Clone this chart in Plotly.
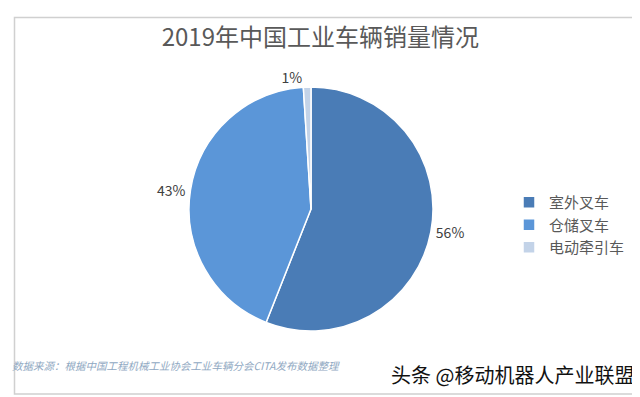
import plotly.graph_objects as go

categories = ["室外叉车", "仓储叉车", "电动牵引车"]
values = [56, 43, 1]
colors = ["#4a7cb6", "#5b96d8", "#c3d3e8"]
title = "2019年中国工业车辆销量情况"
source_note = "<i>数据来源：根据中国工程机械工业协会工业车辆分会CITA发布数据整理</i>"
watermark = "头条 @移动机器人产业联盟"

W, H = 640, 397
cx, cy, r = 303, 201, 122

fig = go.Figure(go.Pie(
    labels=categories, values=values, sort=False, direction="clockwise", rotation=0,
    marker=dict(colors=colors, line=dict(color="white", width=1.5)),
    textinfo="percent", texttemplate="%{percent:.0%}", textposition="outside",
    textfont=dict(size=14, color="#404040", family="Noto Sans CJK SC"),
    domain=dict(x=[(cx - r) / W, (cx + r) / W], y=[(H - cy - r) / H, (H - cy + r) / H]),
    hoverinfo="label+percent",
))

fig.update_layout(
    width=W, height=H, margin=dict(l=0, r=0, t=0, b=0),
    paper_bgcolor="white", plot_bgcolor="white",
    title=dict(text=title, x=0.488, xanchor="center", y=1 - 30 / H, yanchor="middle",
               font=dict(size=24, color="#595959", family="Noto Sans CJK SC")),
    legend=dict(x=501 / W, y=1 - 178 / H, xanchor="left", yanchor="top",
                font=dict(size=15, color="#595959", family="Noto Sans CJK SC"),
                itemwidth=30),
    showlegend=True,
    shapes=[dict(type="rect", xref="paper", yref="paper",
                 x0=6.5 / W, x1=632 / W, y0=1 - 386 / H, y1=1 - 9.5 / H,
                 line=dict(color="#d0d0d0", width=1.5), fillcolor="rgba(0,0,0,0)")],
    annotations=[
        dict(text=source_note, xref="paper", yref="paper", x=2 / W, y=1 - 357 / H,
             xanchor="left", yanchor="middle", showarrow=False,
             font=dict(size=10.5, color="#8fa8c2", family="Noto Sans CJK SC")),
        dict(text=watermark, xref="paper", yref="paper", x=628 / W, y=1 - 366 / H,
             xanchor="right", yanchor="middle", showarrow=False,
             font=dict(size=20, color="#111111", family="Noto Sans CJK SC")),
    ],
)

fig.write_html("out.html")
